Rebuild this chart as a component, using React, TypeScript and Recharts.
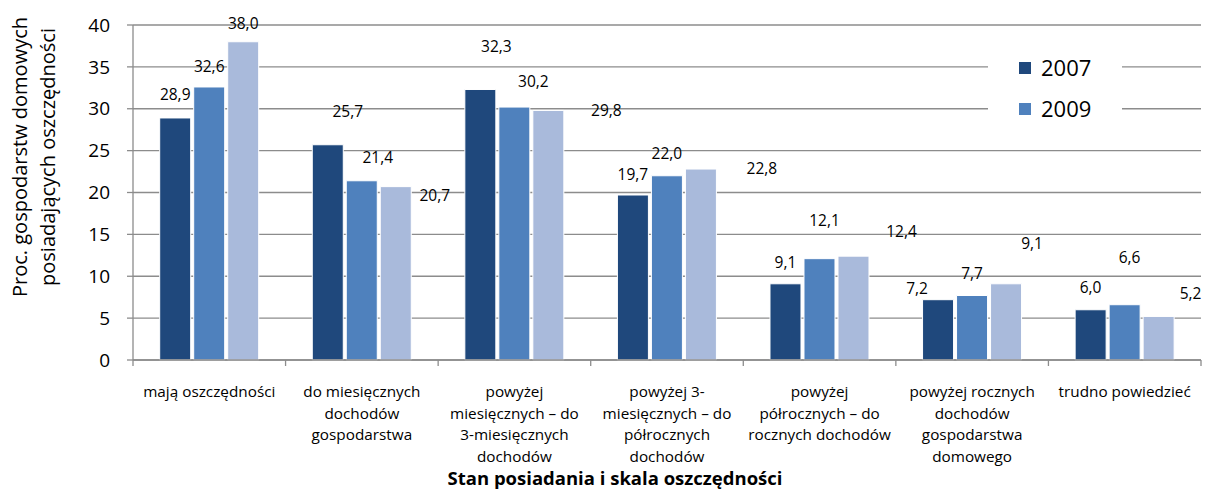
import React from "react"
import { BarChart, Bar, XAxis, YAxis, CartesianGrid, Legend, LabelList, Label } from "recharts"

// kategorie (oś X)
const categories = [
  "mają oszczędności",
  "do miesięcznych\ndochodów\ngospodarstwa",
  "powyżej\nmiesięcznych – do\n3-miesięcznych\ndochodów",
  "powyżej 3-\nmiesięcznych – do\npółrocznych\ndochodów",
  "powyżej\npółrocznych – do\nrocznych dochodów",
  "powyżej rocznych\ndochodów\ngospodarstwa\ndomowego",
  "trudno powiedzieć",
]

const values2007 = [28.9, 25.7, 32.3, 19.7, 9.1, 7.2, 6.0]
const values2009 = [32.6, 21.4, 30.2, 22.0, 12.1, 7.7, 6.6]
const values2011 = [38.0, 20.7, 29.8, 22.8, 12.4, 9.1, 5.2]

const yTicks = [0, 5, 10, 15, 20, 25, 30, 35, 40]

// przesunięcia etykiet (jak w oryginale z Excela) [dx, dy]
const shift2007 = [[0, -24], [20, -34], [16, -43], [0, -21], [0, -22], [-21, -12], [0, -23]]
const shift2009 = [[0, -21], [16, -24], [19, -26], [0, -23], [5, -39], [0, -23], [5, -48]]
const shift2011 = [[0, -19], [39, 8], [58, 0], [61, -1], [48, -25], [26, -41], [32, -23]]

const COLORS = ["#1f487c", "#4f81bd", "#a9badb"]
const FONT = "'Open Sans', sans-serif"

const data = categories.map((name, i) => ({
  name,
  y2007: values2007[i],
  y2009: values2009[i],
  y2011: values2011[i],
}))

const W = 1206
const H = 491
const PLOT_LEFT = 133
const PLOT_RIGHT = 1201
const BAND = (PLOT_RIGHT - PLOT_LEFT) / categories.length

const fmt = (v: number) => v.toFixed(1).replace(".", ",")

const makeLabel = (shifts: number[][]) => (props: any) => {
  const { x, y, width, value, index } = props
  const s = shifts[index] || [0, -20]
  return (
    <text
      x={Number(x) + Number(width) / 2 + s[0]}
      y={Number(y) + s[1]}
      textAnchor="middle"
      dominantBaseline="central"
      fontSize={15.5}
      fontFamily={FONT}
      fill="#000"
    >
      {fmt(Number(value))}
    </text>
  )
}

const CategoryTick = (props: any) => {
  const { x, y, payload, index } = props
  const lines = String(payload.value).split("\n")
  const axisY = y - 8
  return (
    <g>
      <line x1={x - BAND / 2} x2={x - BAND / 2} y1={axisY} y2={axisY + 6} stroke="#8c8c8c" strokeWidth={1.3} />
      {index === categories.length - 1 && (
        <line x1={x + BAND / 2} x2={x + BAND / 2} y1={axisY} y2={axisY + 6} stroke="#8c8c8c" strokeWidth={1.3} />
      )}
      <text x={x} y={axisY + 37} textAnchor="middle" fontSize={15.3} fontFamily={FONT} fill="#000">
        {lines.map((l, i) => (
          <tspan key={i} x={x} dy={i === 0 ? 0 : 21.5}>
            {l}
          </tspan>
        ))}
      </text>
    </g>
  )
}

const LegendBox = (props: any) => {
  const items = (props.payload || []).filter((p: any) => p.type !== "none")
  return (
    <div style={{ background: "#fff", width: 134 }}>
      {items.map((p: any) => (
        <div key={p.value} style={{ height: 41, display: "flex", alignItems: "center", paddingLeft: 31 }}>
          <span style={{ width: 12, height: 12, background: p.color, display: "inline-block", marginRight: 10 }} />
          <span style={{ fontFamily: FONT, fontSize: 22, color: "#000", lineHeight: "41px" }}>{p.value}</span>
        </div>
      ))}
    </div>
  )
}

export default function App() {
  return (
    <div style={{ position: "absolute", left: 0, top: 0, width: W, height: H, background: "#fff" }}>
      <BarChart
        width={W}
        height={H}
        data={data}
        margin={{ top: 25, right: W - PLOT_RIGHT, bottom: 0, left: 0 }}
        barCategoryGap="17.5%"
        barGap={3}
      >
        <CartesianGrid vertical={false} stroke="#8c8c8c" strokeWidth={1.3} />
        <XAxis
          dataKey="name"
          height={131}
          interval={0}
          tickLine={false}
          axisLine={{ stroke: "#8c8c8c", strokeWidth: 1.3 }}
          tick={<CategoryTick />}
        >
          <Label
            content={(p: any) => {
              const vb = p.viewBox || {}
              return (
                <text
                  x={vb.x + vb.width / 2 - 52}
                  y={485}
                  textAnchor="middle"
                  fontSize={18.5}
                  fontWeight="bold"
                  fontFamily={FONT}
                  fill="#000"
                >
                  Stan posiadania i skala oszczędności
                </text>
              )
            }}
          />
        </XAxis>
        <YAxis
          width={PLOT_LEFT}
          domain={[0, 40]}
          ticks={yTicks}
          interval={0}
          tickSize={6}
          tickMargin={17}
          tickLine={{ stroke: "#8c8c8c", strokeWidth: 1.3 }}
          axisLine={{ stroke: "#8c8c8c", strokeWidth: 1.3 }}
          tick={{ fontSize: 19, fill: "#000", fontFamily: FONT }}
        >
          <Label
            content={() => (
              <text transform="translate(0,157) rotate(-90)" textAnchor="middle" fontSize={20} fontFamily={FONT} fill="#000">
                <tspan x={0} y={27}>Proc. gospodarstw domowych</tspan>
                <tspan x={0} y={55}>posiadających oszczędności</tspan>
              </text>
            )}
          />
        </YAxis>
        <Legend
          layout="vertical"
          align="center"
          verticalAlign="middle"
          content={<LegendBox />}
          wrapperStyle={{ position: "absolute", left: 988, top: 47, width: 134 }}
        />
        <Bar dataKey="y2007" name="2007" fill={COLORS[0]} stroke="#fff" strokeWidth={1} isAnimationActive={false}>
          <LabelList dataKey="y2007" content={makeLabel(shift2007)} />
        </Bar>
        <Bar dataKey="y2009" name="2009" fill={COLORS[1]} stroke="#fff" strokeWidth={1} isAnimationActive={false}>
          <LabelList dataKey="y2009" content={makeLabel(shift2009)} />
        </Bar>
        <Bar
          dataKey="y2011"
          name="2011"
          legendType="none"
          fill={COLORS[2]}
          stroke="#fff"
          strokeWidth={1}
          isAnimationActive={false}
        >
          <LabelList dataKey="y2011" content={makeLabel(shift2011)} />
        </Bar>
      </BarChart>
    </div>
  )
}
